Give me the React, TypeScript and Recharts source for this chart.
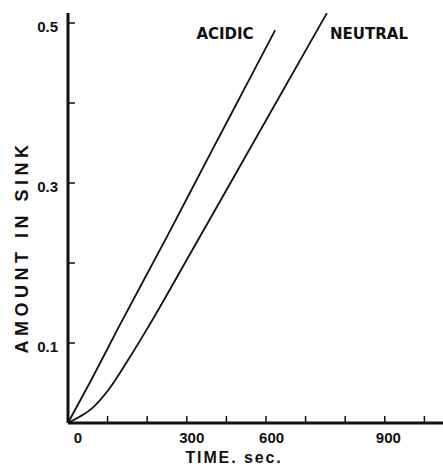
import { Line, LineChart, XAxis, YAxis } from "recharts"

// time (sec) and amount
const acidicTime = [0, 60, 124, 250, 364, 450, 523]
const acidicAmount = [0, 0.055, 0.116, 0.233, 0.341, 0.422, 0.491]
const neutralTime = [0, 30, 62, 100, 152, 199, 300, 455, 654]
const neutralAmount = [0, 0.008, 0.019, 0.04, 0.079, 0.117, 0.204, 0.339, 0.5125]

const xTicks = [0, 100, 200, 300, 400, 500, 600, 700, 800, 900]
const xTickLabels = ["0", "", "", "300", "", "", "600", "", "", "900"]
const yTicks = [0.1, 0.2, 0.3, 0.4, 0.5]
const yTickLabels = ["0.1", "", "0.3", "", "0.5"]

const acidic = acidicTime.map((t, i) => ({ t, v: acidicAmount[i] }))
const neutral = neutralTime.map((t, i) => ({ t, v: neutralAmount[i] }))

const W = 443
const H = 466
const font = "'Liberation Sans', Arial, sans-serif"
const heavy = "'DejaVu Sans', sans-serif"
const ink = "#111"

// the scanned figure has its x labels sitting off their ticks
const xLabelShift: Record<string, number> = { "0": 10, "300": 5, "600": -34, "900": -36 }

function XTick(props: any) {
  const { x, y, payload } = props
  const label = xTickLabels[xTicks.indexOf(payload.value)] ?? ""
  return (
    <g>
      <line x1={x} x2={x} y1={y} y2={y - 7} stroke={ink} strokeWidth={1.5} />
      {label && (
        <text x={x + (xLabelShift[label] ?? 0)} y={y + 20} textAnchor="middle" fontSize={15} fontWeight={700} fontFamily={font} fill={ink}>
          {label}
        </text>
      )}
    </g>
  )
}

function YTick(props: any) {
  const { x, y, payload } = props
  const label = yTickLabels[yTicks.indexOf(payload.value)] ?? ""
  return (
    <g>
      <line x1={x} x2={x + 7} y1={y} y2={y} stroke={ink} strokeWidth={1.5} />
      {label && (
        <text x={x - 10} y={y + 9} textAnchor="end" fontSize={15} fontWeight={700} fontFamily={font} fill={ink}>
          {label}
        </text>
      )}
    </g>
  )
}

export default function App() {
  return (
    <div style={{ position: "absolute", left: 0, top: 0, width: W, height: H, background: "#fff" }}>
      <LineChart width={W} height={H} margin={{ top: 13, right: 0, left: 0, bottom: 0 }}>
        <XAxis
          dataKey="t"
          type="number"
          domain={[0, 947]}
          ticks={xTicks}
          interval={0}
          tickSize={0}
          tickMargin={0}
          height={43}
          axisLine={{ stroke: ink, strokeWidth: 3 }}
          tick={XTick}
          allowDataOverflow
        />
        <YAxis
          type="number"
          domain={[0, 0.5125]}
          ticks={yTicks}
          interval={0}
          tickSize={0}
          tickMargin={0}
          width={68}
          axisLine={{ stroke: ink, strokeWidth: 3 }}
          tick={YTick}
          allowDataOverflow
        />
        <Line data={acidic} dataKey="v" type="monotone" stroke={ink} strokeWidth={1.8} dot={false} isAnimationActive={false} />
        <Line data={neutral} dataKey="v" type="monotone" stroke={ink} strokeWidth={1.8} dot={false} isAnimationActive={false} />
      </LineChart>
      <svg width={W} height={H} style={{ position: "absolute", left: 0, top: 0, pointerEvents: "none" }}>
        <text x={225} y={39} textAnchor="middle" fontSize={15} fontWeight={700} fontFamily={heavy} fill={ink}>
          ACIDIC
        </text>
        <text x={369} y={39} textAnchor="middle" fontSize={15} fontWeight={700} fontFamily={heavy} fill={ink}>
          NEUTRAL
        </text>
        <text x={234} y={463} textAnchor="middle" fontSize={16} fontWeight={700} fontFamily={font} fill={ink} letterSpacing={1.9}>
          TIME. sec.
        </text>
        <text
          x={0}
          y={0}
          transform="translate(28 247) rotate(-90)"
          textAnchor="middle"
          fontSize={18}
          fontWeight={700}
          fontFamily={font}
          fill={ink}
          letterSpacing={4.5}
        >
          AMOUNT IN SINK
        </text>
      </svg>
    </div>
  )
}
